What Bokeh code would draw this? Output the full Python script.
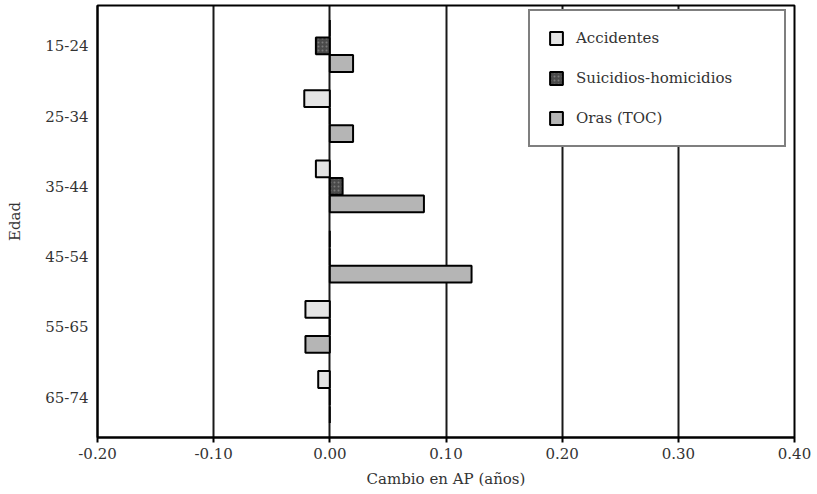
from bokeh.plotting import figure
from bokeh.models import (FactorRange, ColumnDataSource, Legend, LegendItem,
                          FixedTicker, NumeralTickFormatter)
from bokeh.transform import dodge
from bokeh.embed import file_html
from bokeh.resources import INLINE

ages = ["15-24", "25-34", "35-44", "45-54", "55-65", "65-74"]
accidentes = [0.0, -0.022, -0.012, 0.0, -0.021, -0.010]
suicidios = [-0.012, 0.0, 0.011, 0.0, 0.0, 0.0]
otras = [0.020, 0.020, 0.081, 0.122, -0.021, 0.0]
x_ticks = [-0.2, -0.1, 0.0, 0.1, 0.2, 0.3, 0.4]
series_names = ["Accidentes", "Suicidios-homicidios", "Oras (TOC)"]
x_title = "Cambio en AP (años)"
y_title = "Edad"

FONT = "DejaVu Serif"
FS = "15px"
TXT = "#333333"

src = ColumnDataSource(dict(age=ages, acc=accidentes, sui=suicidios, otr=otras))

p = figure(width=817, height=494, output_backend="svg", toolbar_location=None,
           y_range=FactorRange(factors=list(reversed(ages)), range_padding=0.025),
           x_range=(-0.2, 0.4),
           min_border_left=97, min_border_right=23, min_border_top=5,
           min_border_bottom=57)
p.background_fill_color = "white"
p.border_fill_color = "white"
p.outline_line_color = "black"
p.outline_line_width = 2

p.ygrid.grid_line_color = None
p.xgrid.grid_line_color = "black"
p.xgrid.grid_line_width = 2
p.xgrid.grid_line_alpha = 0.9
p.xaxis.ticker = FixedTicker(ticks=x_ticks)
p.xgrid.ticker = FixedTicker(ticks=x_ticks)
p.xaxis.formatter = NumeralTickFormatter(format="0.00")

for ax in (p.xaxis, p.yaxis):
    ax.axis_line_color = "black"
    ax.axis_line_width = 2
    ax.major_label_text_font = FONT
    ax.major_label_text_font_size = FS
    ax.major_label_text_color = TXT
    ax.axis_label_text_font = FONT
    ax.axis_label_text_font_size = FS
    ax.axis_label_text_font_style = "normal"
    ax.axis_label_text_color = TXT
    ax.minor_tick_line_color = None

p.xaxis.major_tick_line_color = "black"
p.xaxis.major_tick_line_width = 2
p.xaxis.major_tick_out = 5
p.xaxis.major_tick_in = 0
p.xaxis.major_label_standoff = 5
p.xaxis.axis_label = x_title
p.xaxis.axis_label_standoff = 8

p.yaxis.major_tick_line_color = None
p.yaxis.major_tick_out = 0
p.yaxis.major_label_standoff = 9
p.yaxis.axis_label = y_title
p.yaxis.axis_label_standoff = 18

h = 0.24
r_acc = p.hbar(y=dodge("age", 0.25, range=p.y_range), left=0, right="acc", height=h,
               source=src, fill_color="#e4e4e4", line_color="black", line_width=2)
r_sui = p.hbar(y=dodge("age", 0.0, range=p.y_range), left=0, right="sui", height=h,
               source=src, fill_color="#4a4a4a", line_color="black", line_width=2,
               hatch_pattern="dot", hatch_color="#7a7a7a", hatch_scale=4)
r_otr = p.hbar(y=dodge("age", -0.25, range=p.y_range), left=0, right="otr", height=h,
               source=src, fill_color="#b5b5b5", line_color="black", line_width=2)

legend = Legend(items=[LegendItem(label=series_names[0], renderers=[r_acc]),
                       LegendItem(label=series_names[1], renderers=[r_sui]),
                       LegendItem(label=series_names[2], renderers=[r_otr])],
                location=(431, 290), margin=0, padding=18, spacing=22,
                glyph_width=16, glyph_height=16, label_height=18,
                label_width=190, label_standoff=12,
                label_text_font=FONT, label_text_font_size=FS,
                label_text_color=TXT,
                border_line_color="black", border_line_width=2,
                background_fill_color="white", background_fill_alpha=1)
p.add_layout(legend, "center")

open("out.html", "w").write(file_html(p, INLINE))
